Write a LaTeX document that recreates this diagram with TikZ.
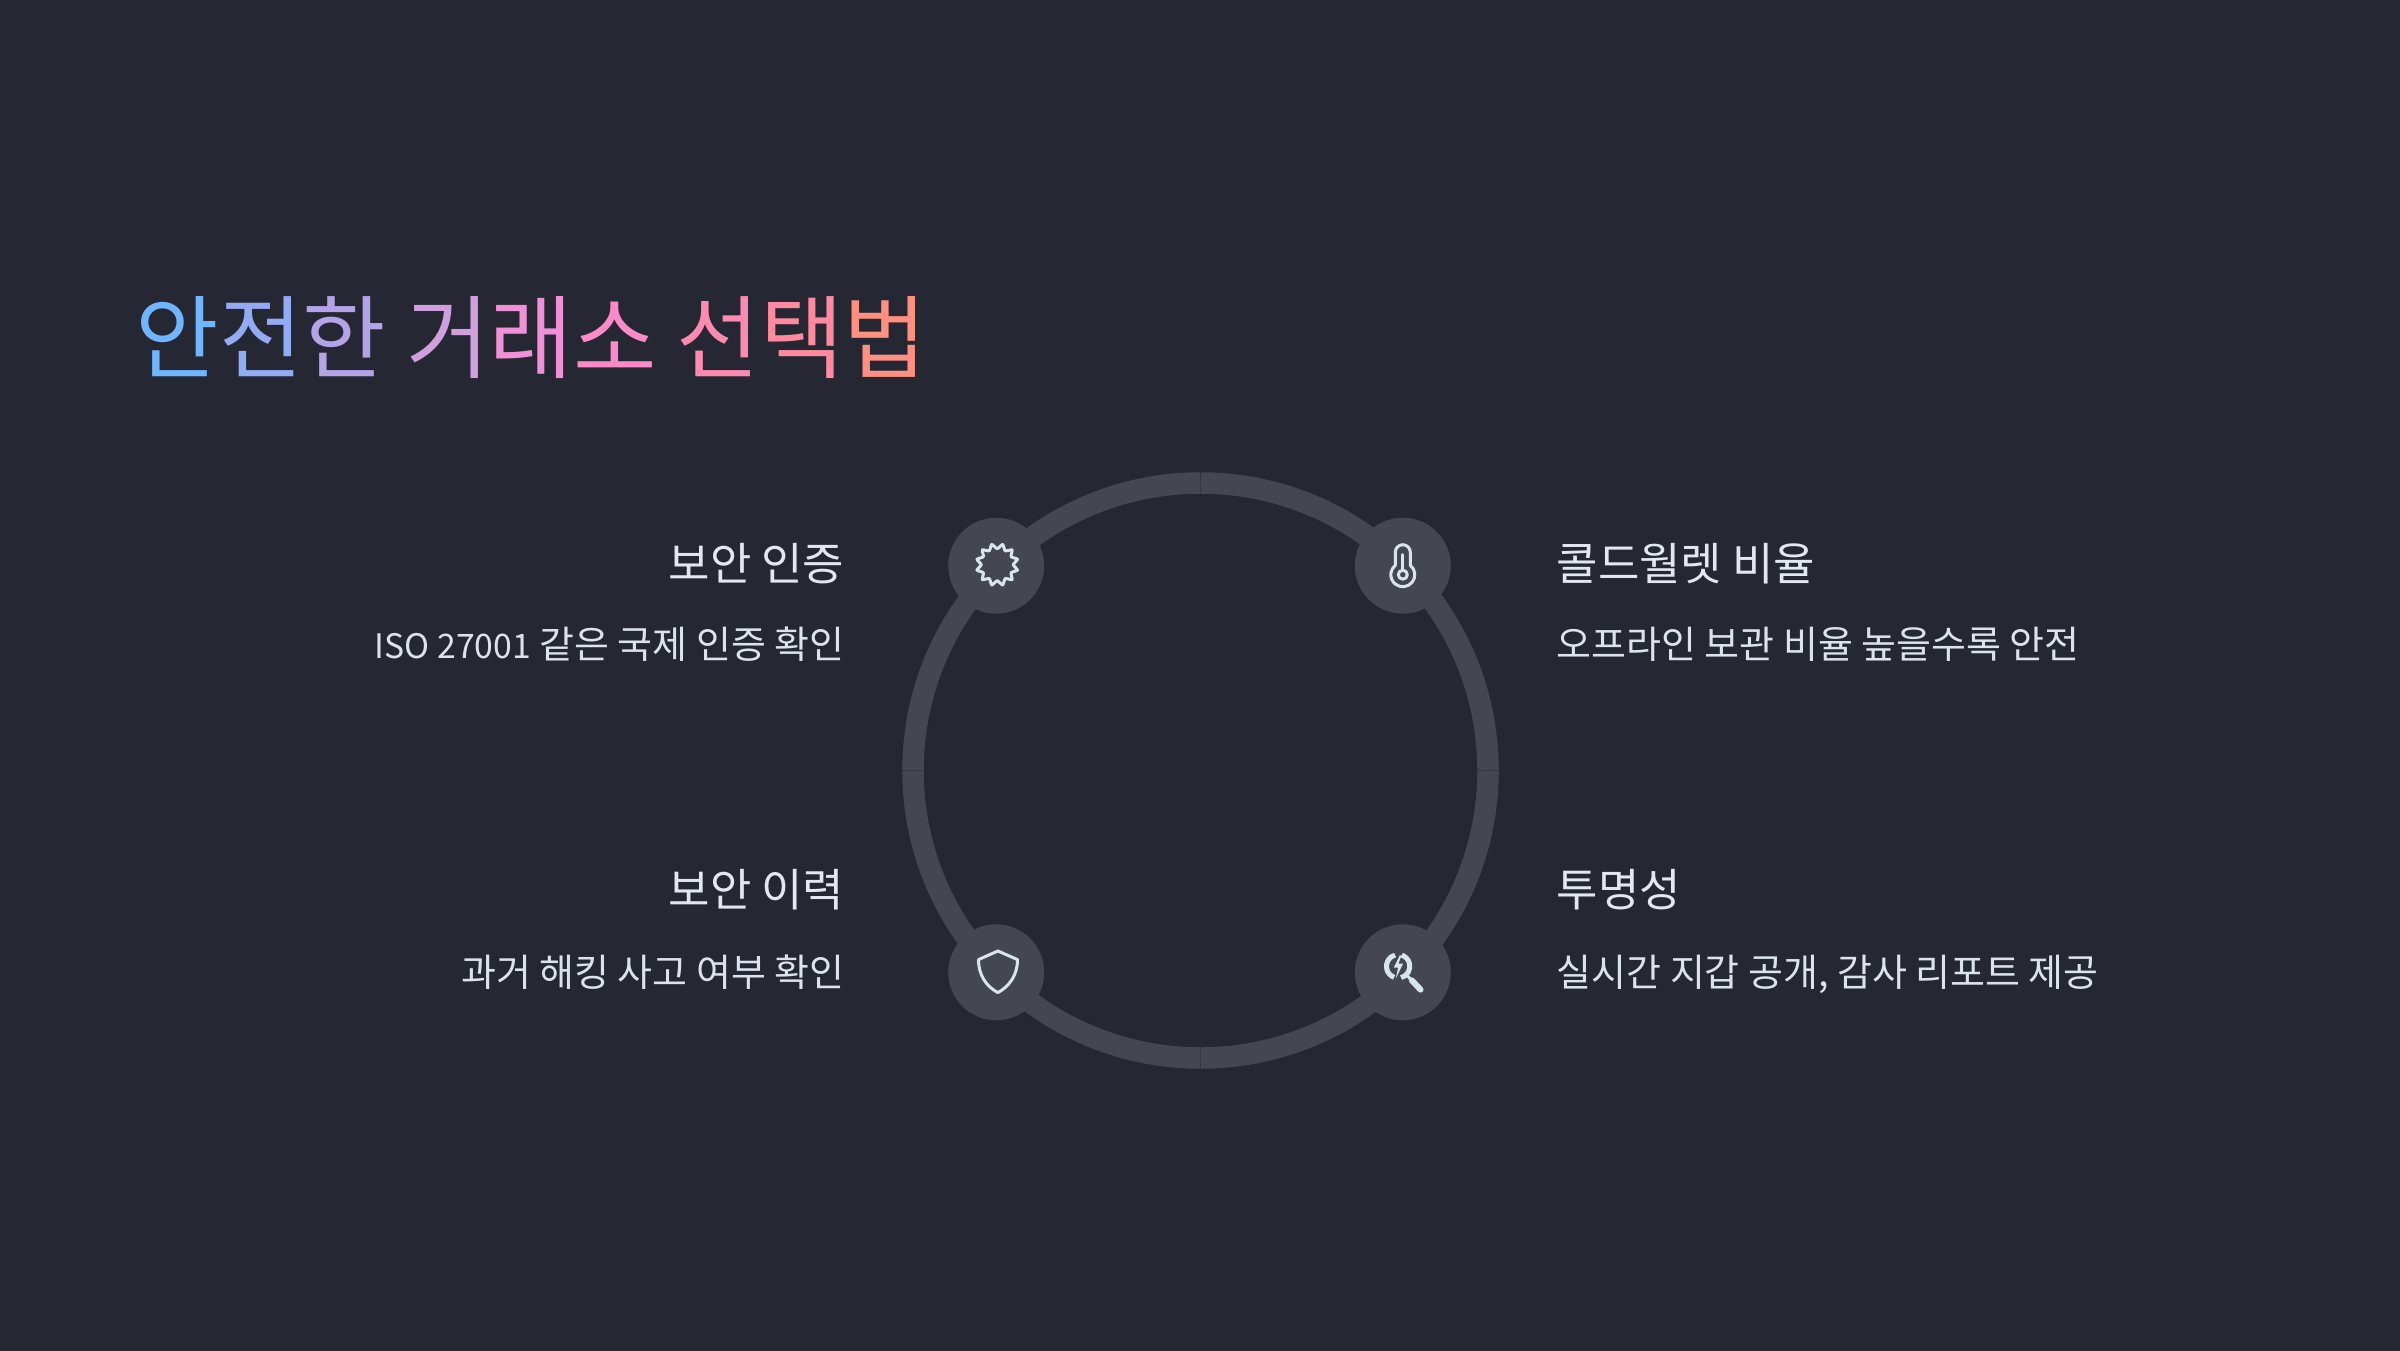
\documentclass[tikz,border=0pt]{standalone}
\usepackage{xcolor}
\usepackage{fontspec}
\setmainfont{Noto Sans CJK KR}
\usepackage{tikz}
\usetikzlibrary{positioning, calc}
\definecolor{bgdark}{HTML}{252733}
\definecolor{ringgray}{HTML}{444651}
\definecolor{headtext}{HTML}{E2E8F0}
\definecolor{detailtext}{HTML}{DBE4EE}
\definecolor{icontext}{HTML}{D8E4EE}
\newcommand{\tc}[2]{\textcolor[HTML]{#1}{#2}}

\begin{document}
\begin{tikzpicture}[
  titletext/.style={inner sep=0pt, anchor=base west, font=\fontsize{25.8}{31}\selectfont},
  headnode/.style={inner sep=0pt, text=headtext, font=\fontsize{12.8}{16}\selectfont},
  detailnode/.style={inner sep=0pt, text=detailtext, font=\fontsize{10.8}{14}\selectfont},
  badge/.style={circle, fill=ringgray, minimum size=0.96cm, inner sep=0pt},
  ringarc/.style={draw=ringgray, line width=0.215cm},
  iconline/.style={draw=icontext, line width=0.03cm, line join=round, line cap=round}
]
  \useasboundingbox (0,0) rectangle (24,13.5);
  \fill[bgdark] (-0.1,-0.1) rectangle (24.1,13.6);

  \node[titletext] (title) at (1.35,9.79) {\tc{70B5FF}{안}\tc{93ABF5}{전}\tc{B5A3E8}{한} \tc{D09FE0}{거}\tc{F090D8}{래}\tc{FB8AC8}{소} \tc{FF8AB0}{선}\tc{FF8AA0}{택}\tc{FF8F80}{법}};

  % ring, four quarters
  \coordinate (ringcenter) at (12.005,5.795);
  \foreach \a in {0,90,180,270}
    \draw[ringarc] ($(ringcenter)+(\a+0.04:2.875)$) arc[start angle=\a+0.04, delta angle=89.92, radius=2.875];

  \coordinate (badgecenter) at (11.995,5.81);
  \node[badge] (certbadge) at ($(badgecenter)+(135:2.875)$) {};
  \node[badge] (coldbadge) at ($(badgecenter)+(45:2.875)$) {};
  \node[badge] (histbadge) at ($(badgecenter)+(225:2.875)$) {};
  \node[badge] (openbadge) at ($(badgecenter)+(315:2.875)$) {};

  \node[headnode, anchor=base east] (certhead) at (8.45,7.7) {보안 인증};
  \node[detailnode, anchor=base east] (certtext) at ([yshift=-0.785cm]certhead.base east) {{\fontsize{9.6}{14}\selectfont ISO 27001} 같은 국제 인증 확인};
  \node[headnode, anchor=base east] (histhead) at (8.45,4.44) {보안 이력};
  \node[detailnode, anchor=base east] (histtext) at ([yshift=-0.8cm]histhead.base east) {과거 해킹 사고 여부 확인};
  \node[headnode, anchor=base west] (coldhead) at (15.56,7.7) {콜드월렛 비율};
  \node[detailnode, anchor=base west] (coldtext) at ([yshift=-0.785cm]coldhead.base west) {오프라인 보관 비율 높을수록 안전};
  \node[headnode, anchor=base west] (openhead) at (15.56,4.44) {투명성};
  \node[detailnode, anchor=base west] (opentext) at ([yshift=-0.8cm]openhead.base west) {실시간 지갑 공개, 감사 리포트 제공};

  % icons
  \begin{scope}[shift={(certbadge.center)}]
    \draw[iconline] plot[smooth cycle, tension=0.3, domain=0:345, samples=24] ([shift={(0.01,0.01)}]\x:{0.185-0.025*cos(12*\x)});
  \end{scope}
  \begin{scope}[shift={(coldbadge.center)}]
    \draw[iconline] (-0.075,0.004) -- (-0.075,0.135) arc[start angle=180, end angle=0, radius=0.075] -- (0.075,0.004) arc[start angle=51.4, end angle=-231.4, radius=0.12] -- cycle;
    \draw[iconline] (0,-0.09) circle[radius=0.045];
    \draw[iconline] (0,0.11) -- (0,-0.045);
  \end{scope}
  \begin{scope}[shift={(histbadge.center)}]
    \draw[iconline] (0.017,0.213) -- (0.213,0.127) .. controls (0.213,-0.03) and (0.13,-0.14) .. (0.017,-0.203) .. controls (-0.10,-0.14) and (-0.177,-0.03) .. (-0.177,0.127) -- cycle;
  \end{scope}
  \begin{scope}[shift={(openbadge.center)}]
    \draw[iconline, line width=0.05cm, line cap=butt] (-0.047,0.06) ++(105:0.117) arc[start angle=105, end angle=250, radius=0.117];
    \draw[iconline, line width=0.05cm, line cap=butt] (-0.047,0.06) ++(-75:0.117) arc[start angle=-75, end angle=72, radius=0.117];
    \fill[icontext] (-0.03,0.17) -- (-0.09,0.047) -- (-0.047,0.047) -- (-0.07,-0.063) -- (0.003,0.087) -- (-0.043,0.087) -- (-0.013,0.17) -- cycle;
    \draw[iconline, line width=0.03cm] (0.04,-0.03) -- (0.09,-0.08);
    \draw[iconline, line width=0.06cm] (0.09,-0.08) -- (0.177,-0.173);
  \end{scope}
\end{tikzpicture}
\end{document}
